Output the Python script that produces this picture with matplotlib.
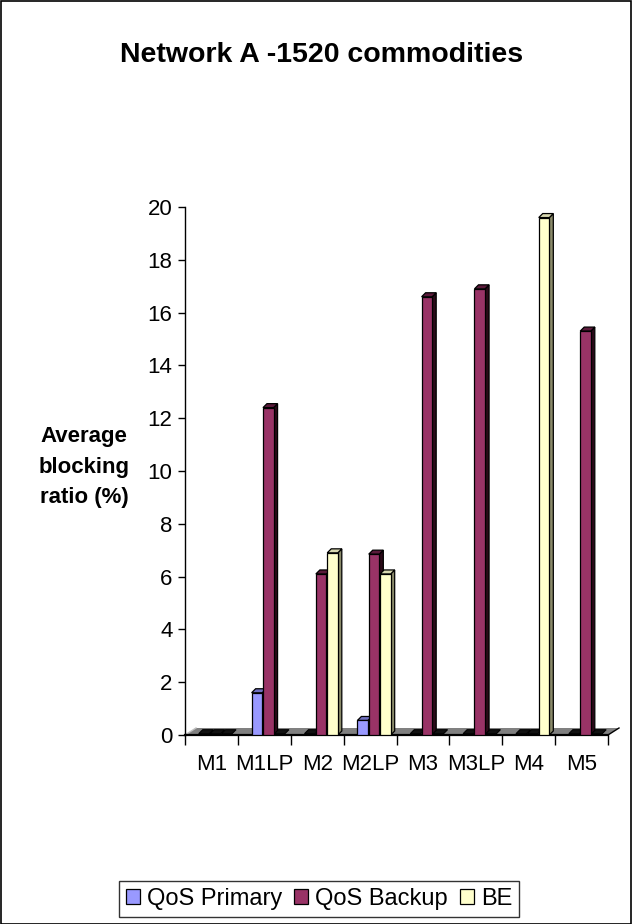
import numpy as np
import matplotlib.pyplot as plt
from matplotlib.patches import Polygon, Rectangle, Patch

plt.rcParams['font.family'] = ['Liberation Sans', 'DejaVu Sans']

# blocking ratio (%) per method
methods = ['M1', 'M1LP', 'M2', 'M2LP', 'M3', 'M3LP', 'M4', 'M5']
qos_primary = [0, 1.6, 0, 0.55, 0, 0, 0, 0]
qos_backup = [0, 12.4, 6.1, 6.85, 16.6, 16.9, 0, 15.3]
be = [0, 0, 6.9, 6.1, 0, 0, 19.6, 0]

series = [
    ('QoS Primary', qos_primary, '#9999FF', '#4d4d80', '#7070c0'),
    ('QoS Backup', qos_backup, '#993366', '#2a0a18', '#5a1a3a'),
    ('BE', be, '#FFFFCC', '#8a8a6a', '#d8d8b0'),
]
offsets = [0.36, 0.575, 0.79]
width = 0.2

W, H = 632, 924
fig = plt.figure(figsize=(W / 100, H / 100), dpi=100)
ax = fig.add_axes([185 / W, (H - 735) / H, 423 / W, 528 / H])
n = len(methods)
ax.set_xlim(0, n)
ax.set_ylim(0, 20)

# pixel -> data units for the fake 3D depth
px_x = n / 423
px_y = 20 / 528
dx, dy = 4 * px_x, 4 * px_y

# grey floor
fdx, fdy = 11 * px_x, 7 * px_y
floor = Polygon([(0, 0), (n, 0), (n + fdx, fdy), (fdx, fdy)], closed=True,
                facecolor='#808080', edgecolor='none', clip_on=False, zorder=1)
ax.add_patch(floor)
ax.plot([0, fdx], [0, fdy], color='#c0c0c0', lw=1, clip_on=False, zorder=1)
ax.plot([n, n + fdx], [0, fdy], color='black', lw=1, clip_on=False, zorder=1)

x = np.arange(n)
for (name, vals, front, side, top), off in zip(series, offsets):
    for xi, v in zip(x, vals):
        x0 = xi + off - width / 2
        x1 = x0 + width
        y0 = 0.05
        if v == 0:
            ax.add_patch(Polygon([(x0, y0), (x1, y0), (x1 + dx, y0 + dy), (x0 + dx, y0 + dy)],
                                 closed=True, facecolor='#111111', edgecolor='black',
                                 lw=0.8, clip_on=False, zorder=3))
            continue
        ax.bar(x0, v, width=width, bottom=0, align='edge', color=front,
               edgecolor='black', lw=0.9, zorder=4)
        ax.add_patch(Polygon([(x1, 0), (x1 + dx, dy), (x1 + dx, v + dy), (x1, v)],
                             closed=True, facecolor=side, edgecolor='black', lw=0.9, zorder=3))
        ax.add_patch(Polygon([(x0, v), (x1, v), (x1 + dx, v + dy), (x0 + dx, v + dy)],
                             closed=True, facecolor=top, edgecolor='black', lw=0.9,
                             clip_on=False, zorder=3))

for s in ['top', 'right']:
    ax.spines[s].set_visible(False)
ax.spines['left'].set_linewidth(1.0)
ax.spines['bottom'].set_linewidth(1.6)
ax.set_yticks(np.arange(0, 21, 2))
ax.set_xticks(np.arange(0, n + 1))
ax.set_xticklabels([])
ax.set_xticks(x + 0.5, minor=True)
ax.set_xticklabels(methods, minor=True)
ax.tick_params(axis='x', which='minor', length=0, pad=14, labelsize=16)
ax.tick_params(axis='x', which='major', length=7, width=1)
ax.tick_params(axis='y', length=5, width=1, labelsize=16, pad=4)
ax.patch.set_alpha(0)

fig.text(322 / W, 1 - 55 / H, 'Network A -1520 commodities', ha='center', va='center',
         fontsize=20.5, fontweight='bold')
fig.text(84 / W, 1 - 467 / H, 'Average\nblocking\nratio (%)', ha='center', va='center',
         fontsize=16, fontweight='bold', linespacing=1.6)

handles = [Patch(facecolor=c, edgecolor='black', lw=0.9) for _, _, c, _, _ in series]
leg = fig.legend(handles, [s[0] for s in series], loc='center', ncol=3,
                 bbox_to_anchor=(319 / W, 1 - 899 / H), fontsize=17, frameon=True,
                 fancybox=False, edgecolor='black', handlelength=0.6, handleheight=0.6,
                 handletextpad=0.3, columnspacing=0.5, borderpad=0.3)
leg.get_frame().set_linewidth(1.0)

fig.patches.append(Rectangle((0.5 / W, 0.5 / H), 1 - 1.5 / W, 1 - 1.5 / H,
                             transform=fig.transFigure, fill=False, edgecolor='black', lw=1.2))

fig.savefig('out.png', dpi=100)
